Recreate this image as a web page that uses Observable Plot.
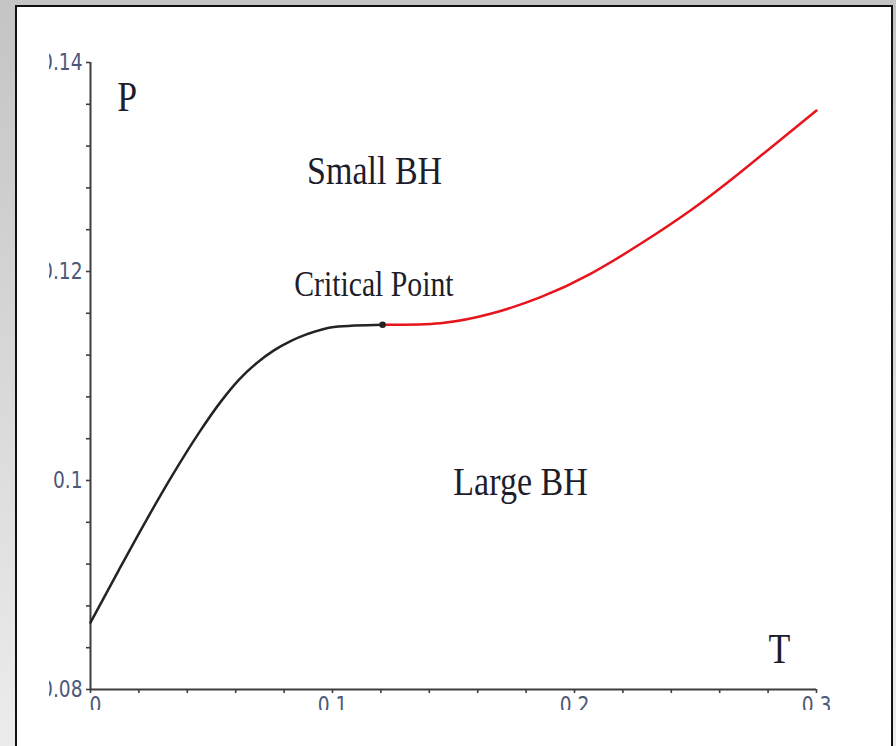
<!DOCTYPE html>
<html>
<head>
<meta charset="utf-8">
<script src="https://cdn.jsdelivr.net/npm/d3@7"></script>
<script src="https://cdn.jsdelivr.net/npm/@observablehq/plot@0.6"></script>
<style>
  html, body { margin: 0; padding: 0; }
  body { width: 896px; height: 746px; overflow: hidden; position: relative;
         background: linear-gradient(#c4c4c4, #ececec); }
  #panel { position: absolute; left: 15px; top: 5px; width: 874px; height: 800px;
           background: #fff; border: 2px solid #111; border-bottom: none; }
  #chart { position: absolute; left: 0; top: 0; }
</style>
</head>
<body>
<div id="panel"></div>
<div id="chart"></div>
<script>
// Black branch (below the critical point)
const blackT = [0, 0.0117, 0.0227, 0.0338, 0.0448, 0.0537, 0.0613, 0.0686, 0.0758, 0.0827, 0.0895, 0.1006, 0.1207];
const blackP = [0.0864, 0.09143, 0.09605, 0.10049, 0.10456, 0.1075, 0.10963, 0.11122, 0.11245, 0.11334, 0.11400, 0.1147, 0.1149];
// Red branch (beyond the critical point)
const redT = [0.1207, 0.1446, 0.1653, 0.1860, 0.2066, 0.2273, 0.2479, 0.2686, 0.3000];
const redP = [0.1149, 0.11505, 0.11595, 0.11754, 0.11978, 0.12265, 0.12584, 0.1295, 0.1354];
// Critical point
const critT = [0.1207];
const critP = [0.1149];
// Ticks
const xMinorTicks = [0, 0.02, 0.04, 0.06, 0.08, 0.1, 0.12, 0.14, 0.16, 0.18, 0.2, 0.22, 0.24, 0.26, 0.28, 0.3];
const xLabelTicks = [0.1, 0.2, 0.3];
const xLabels = ["0.1", "0.2", "0.3"];
const xZeroLabel = ["0"];
const yMinorTicks = [0.08, 0.084, 0.088, 0.092, 0.096, 0.1, 0.104, 0.108, 0.112, 0.116, 0.12, 0.124, 0.128, 0.132, 0.136, 0.14];
const yLabelTicks = [0.08, 0.1, 0.12, 0.14];
const yLabels = ["0.08", "0.1", "0.12", "0.14"];
// Annotations
const noteText = ["P", "Small BH", "Critical Point", "Large BH", "T"];
const noteT = [0.0152, 0.1174, 0.1171, 0.1777, 0.2847];
const noteP = [0.1354, 0.1284, 0.1177, 0.0986, 0.0825];
const noteSize = [42, 40, 35, 40, 42];

const black = blackT.map((t, i) => ({T: t, P: blackP[i]}));
const red = redT.map((t, i) => ({T: t, P: redP[i]}));
const crit = critT.map((t, i) => ({T: t, P: critP[i]}));
const notes = noteText.map((s, i) => ({s, T: noteT[i], P: noteP[i], size: noteSize[i]}));

const tickFont = "'Liberation Sans Narrow', 'DejaVu Sans Condensed', 'Liberation Sans', sans-serif";
const tickColor = "#4c5779";
const axisColor = "#3d3d3d";

const chart = Plot.plot({
  width: 896,
  height: 746,
  marginLeft: 90,
  marginRight: 80,
  marginTop: 62,
  marginBottom: 57,
  style: {background: "transparent", overflow: "visible"},
  x: {domain: [0, 0.3]},
  y: {domain: [0.08, 0.14]},
  marks: [
    Plot.ruleX([0], {stroke: axisColor, strokeWidth: 2}),
    Plot.ruleY([0.08], {stroke: axisColor, strokeWidth: 2}),
    Plot.axisY(yMinorTicks, {tickSize: 4, tickFormat: () => "", stroke: axisColor, strokeWidth: 1.6, label: null}),
    Plot.axisX(xMinorTicks, {tickSize: 4, tickFormat: () => "", stroke: axisColor, strokeWidth: 1.6, label: null}),
    Plot.axisY(yLabelTicks, {tickSize: 0, tickPadding: 8, tickFormat: d => yLabels[yLabelTicks.indexOf(d)],
      fontSize: 23, fontFamily: tickFont, color: tickColor, label: null}),
    Plot.axisX(xLabelTicks, {tickSize: 0, tickPadding: 7, tickFormat: d => xLabels[xLabelTicks.indexOf(d)],
      fontSize: 23, fontFamily: tickFont, color: tickColor, label: null}),
    Plot.axisX([0], {tickSize: 0, tickPadding: 7, dx: 5, tickFormat: () => xZeroLabel[0],
      fontSize: 23, fontFamily: tickFont, color: tickColor, label: null}),
    Plot.line(black, {x: "T", y: "P", stroke: "#232323", strokeWidth: 2.5, curve: "monotone-x"}),
    Plot.line(red, {x: "T", y: "P", stroke: "#e8141c", strokeWidth: 2.5, curve: "natural"}),
    Plot.dot(crit, {x: "T", y: "P", r: 3.3, fill: "#232323", stroke: "none"}),
    Plot.text(notes, {x: "T", y: "P", text: "s", fontSize: "size", lineAnchor: "bottom", textAnchor: "middle",
      fontFamily: "'Liberation Serif', 'Times New Roman', serif", fill: "#1d1d2b"})
  ]
});

function condense(selector, k) {
  chart.querySelectorAll(selector).forEach(t => {
    const tr = t.getAttribute("transform");
    if (tr) t.setAttribute("transform", tr + ` scale(${k},1)`);
    else {
      const x = +t.getAttribute("x") || 0;
      t.setAttribute("x", x / k);
      t.setAttribute("transform", `scale(${k},1)`);
    }
  });
}
// Horizontally condense the serif annotations and the tick labels
condense('g[aria-label="text"] text', 0.85);
condense('g[aria-label="y-axis tick label"] text', 0.9);
condense('g[aria-label="x-axis tick label"] text', 0.9);

// Crop like the original figure (tick labels cut at left and bottom)
const ns = "http://www.w3.org/2000/svg";
const defs = document.createElementNS(ns, "defs");
const cp = document.createElementNS(ns, "clipPath");
cp.setAttribute("id", "crop");
const rect = document.createElementNS(ns, "rect");
rect.setAttribute("x", 49); rect.setAttribute("y", 0);
rect.setAttribute("width", 847); rect.setAttribute("height", 710);
cp.appendChild(rect); defs.appendChild(cp);
const g = document.createElementNS(ns, "g");
g.setAttribute("clip-path", "url(#crop)");
Array.from(chart.childNodes).forEach(n => {
  if (n.nodeName.toLowerCase() !== "style") g.appendChild(n);
});
chart.appendChild(defs);
chart.appendChild(g);

document.getElementById("chart").appendChild(chart);
</script>
</body>
</html>
